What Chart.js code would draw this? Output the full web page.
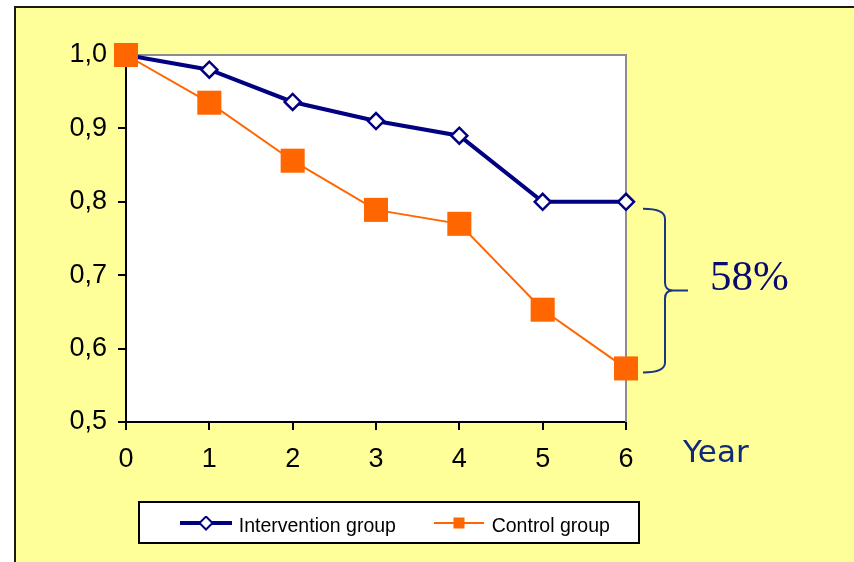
<!DOCTYPE html>
<html>
<head>
<meta charset="utf-8">
<script src="https://cdn.jsdelivr.net/npm/chart.js@4.4.1/dist/chart.umd.min.js"></script>
<style>
  html, body { margin: 0; padding: 0; background: #ffffff; }
  #wrap { position: relative; width: 854px; height: 562px; }
  canvas { display: block; }
</style>
</head>
<body>
<div id="wrap"><canvas id="chart" width="854" height="562"></canvas></div>
<script>
// Survival-style proportions by year of follow-up
const years = ['0', '1', '2', '3', '4', '5', '6'];
const interventionGroup = [1.0, 0.98, 0.936, 0.91, 0.89, 0.80, 0.80];
const controlGroup = [1.0, 0.935, 0.856, 0.789, 0.77, 0.653, 0.573];
const seriesNames = ['Intervention group', 'Control group'];
const reductionLabel = '58%';
const xAxisTitle = 'Year';

const NAVY = '#000080';
const ORANGE = '#FF6600';
const PANEL = '#FFFF99';
const TICK_FONT = { family: '"Liberation Sans", Arial, sans-serif', size: 27 };

// small line-plus-marker swatches for the legend
function legendSwatch(kind) {
  const c = document.createElement('canvas');
  c.width = 52; c.height = 22;
  const g = c.getContext('2d');
  const cy = 7;
  if (kind === 'diamond') {
    g.strokeStyle = NAVY; g.lineWidth = 4;
    g.beginPath(); g.moveTo(0, cy); g.lineTo(52, cy); g.stroke();
    g.beginPath();
    g.moveTo(26, cy - 6.5); g.lineTo(32.5, cy); g.lineTo(26, cy + 6.5); g.lineTo(19.5, cy); g.closePath();
    g.fillStyle = '#ffffff'; g.fill();
    g.lineWidth = 2; g.stroke();
  } else {
    g.strokeStyle = ORANGE; g.lineWidth = 2;
    g.beginPath(); g.moveTo(1, cy); g.lineTo(51, cy); g.stroke();
    g.fillStyle = ORANGE; g.fillRect(20.5, cy - 5.5, 11, 11);
  }
  return c;
}
const swatches = [legendSwatch('diamond'), legendSwatch('square')];

// frame, plot panel, legend box, brace and annotations
const decorations = {
  id: 'decorations',
  afterLayout(chart) {
    const lg = chart.legend;
    if (!lg) return;
    const pad = lg.options.labels.padding;
    const itemsStart = 183;
    const left = 138;
    const right = 2 * itemsStart - pad + lg.lineWidths[0] - left;
    const top = 477.25;
    lg.left = left; lg.right = right; lg.width = right - left;
    lg.top = top; lg.bottom = chart.height; lg.height = chart.height - top;
  },
  beforeDraw(chart) {
    const ctx = chart.ctx;
    const a = chart.chartArea;
    ctx.save();
    ctx.fillStyle = '#ffffff';
    ctx.fillRect(0, 0, chart.width, chart.height);
    ctx.fillStyle = PANEL;
    ctx.fillRect(16, 8, chart.width - 16, chart.height - 8);
    ctx.fillStyle = '#1a1a10';
    ctx.fillRect(14, 6, chart.width - 14, 2);
    ctx.fillRect(14, 6, 2, chart.height - 6);
    // plot panel
    ctx.fillStyle = '#ffffff';
    ctx.fillRect(a.left, a.top, a.right - a.left, a.bottom - a.top);
    // legend box
    ctx.fillStyle = '#ffffff';
    ctx.fillRect(139, 502, 500, 41);
    ctx.strokeStyle = '#000000';
    ctx.lineWidth = 2;
    ctx.strokeRect(139, 502, 500, 41);
    ctx.restore();
  },
  beforeDatasetsDraw(chart) {
    const ctx = chart.ctx;
    const a = chart.chartArea;
    ctx.save();
    ctx.strokeStyle = '#8c8c8c';
    ctx.lineWidth = 2;
    ctx.beginPath();
    ctx.moveTo(a.left, a.top);
    ctx.lineTo(a.right, a.top);
    ctx.lineTo(a.right, a.bottom);
    ctx.stroke();
    ctx.restore();
  },
  afterDraw(chart) {
    const ctx = chart.ctx;
    const y = chart.scales.y;
    const last = years.length - 1;
    const yTop = y.getPixelForValue(interventionGroup[last]) + 7;
    const yBot = y.getPixelForValue(controlGroup[last]) + 4;
    const yMid = (yTop + yBot) / 2;
    const x0 = 643, xv = 665, xc = 688;
    ctx.save();
    // curly brace between the two final values
    ctx.strokeStyle = '#1c3580';
    ctx.lineWidth = 2;
    ctx.beginPath();
    ctx.moveTo(x0, yTop);
    ctx.quadraticCurveTo(xv, yTop, xv, yTop + 10);
    ctx.lineTo(xv, yMid - 8);
    ctx.quadraticCurveTo(xv, yMid, xv + 8, yMid);
    ctx.lineTo(xc, yMid);
    ctx.moveTo(xv + 8, yMid);
    ctx.quadraticCurveTo(xv, yMid, xv, yMid + 8);
    ctx.lineTo(xv, yBot - 10);
    ctx.quadraticCurveTo(xv, yBot, x0, yBot);
    ctx.stroke();
    // annotations
    ctx.textAlign = 'left';
    ctx.textBaseline = 'alphabetic';
    ctx.fillStyle = '#0a0a6e';
    ctx.font = '43px "Liberation Serif", "Times New Roman", serif';
    ctx.fillText(reductionLabel, 710, 290);
    ctx.fillStyle = '#0f2a7a';
    ctx.font = '31px "DejaVu Sans", Verdana, sans-serif';
    ctx.fillText(xAxisTitle, 683, 462);
    ctx.restore();
  }
};

new Chart(document.getElementById('chart'), {
  type: 'line',
  data: {
    labels: years,
    datasets: [
      {
        label: seriesNames[0],
        data: interventionGroup,
        order: 1,
        borderColor: NAVY,
        borderWidth: 4,
        tension: 0,
        pointStyle: 'rectRot',
        pointRadius: 8,
        pointBorderWidth: 2.5,
        pointBorderColor: NAVY,
        pointBackgroundColor: '#ffffff',
        clip: false
      },
      {
        label: seriesNames[1],
        data: controlGroup,
        order: 0,
        borderColor: ORANGE,
        borderWidth: 2,
        tension: 0,
        pointStyle: 'rect',
        pointRadius: 17,
        pointBorderWidth: 0,
        pointBackgroundColor: ORANGE,
        clip: false
      }
    ]
  },
  options: {
    responsive: false,
    animation: false,
    events: [],
    layout: { padding: { left: 0, top: 55, right: 228, bottom: 60 } },
    scales: {
      x: {
        type: 'category',
        offset: false,
        grid: { display: true, drawOnChartArea: false, drawTicks: true, tickLength: 8, color: '#000000', lineWidth: 2 },
        border: { display: true, color: '#000000', width: 2 },
        ticks: { color: '#000000', font: TICK_FONT, padding: 13, maxRotation: 0, autoSkip: false },
        afterFit(scale) { scale.height = 60; }
      },
      y: {
        min: 0.5,
        max: 1.0,
        grid: { display: true, drawOnChartArea: false, drawTicks: true, tickLength: 8, color: '#000000', lineWidth: 2 },
        border: { display: true, color: '#000000', width: 2 },
        ticks: {
          stepSize: 0.1,
          color: '#000000',
          font: TICK_FONT,
          padding: 11,
          callback: (v) => Number(v).toFixed(1).replace('.', ',')
        },
        afterFit(scale) { scale.width = 126; }
      }
    },
    plugins: {
      tooltip: { enabled: false },
      legend: {
        display: true,
        position: 'bottom',
        maxHeight: 20,
        labels: {
          usePointStyle: true,
          pointStyleWidth: 46,
          padding: 40,
          color: '#000000',
          font: { family: '"Liberation Sans", Arial, sans-serif', size: 19.5 },
          generateLabels: (chart) => chart.data.datasets.map((ds, i) => ({
            text: ds.label,
            pointStyle: swatches[i],
            datasetIndex: i,
            hidden: false,
            lineWidth: 0,
            fillStyle: 'transparent',
            strokeStyle: 'transparent',
            fontColor: '#000000'
          }))
        }
      }
    }
  },
  plugins: [decorations]
});
</script>
</body>
</html>
